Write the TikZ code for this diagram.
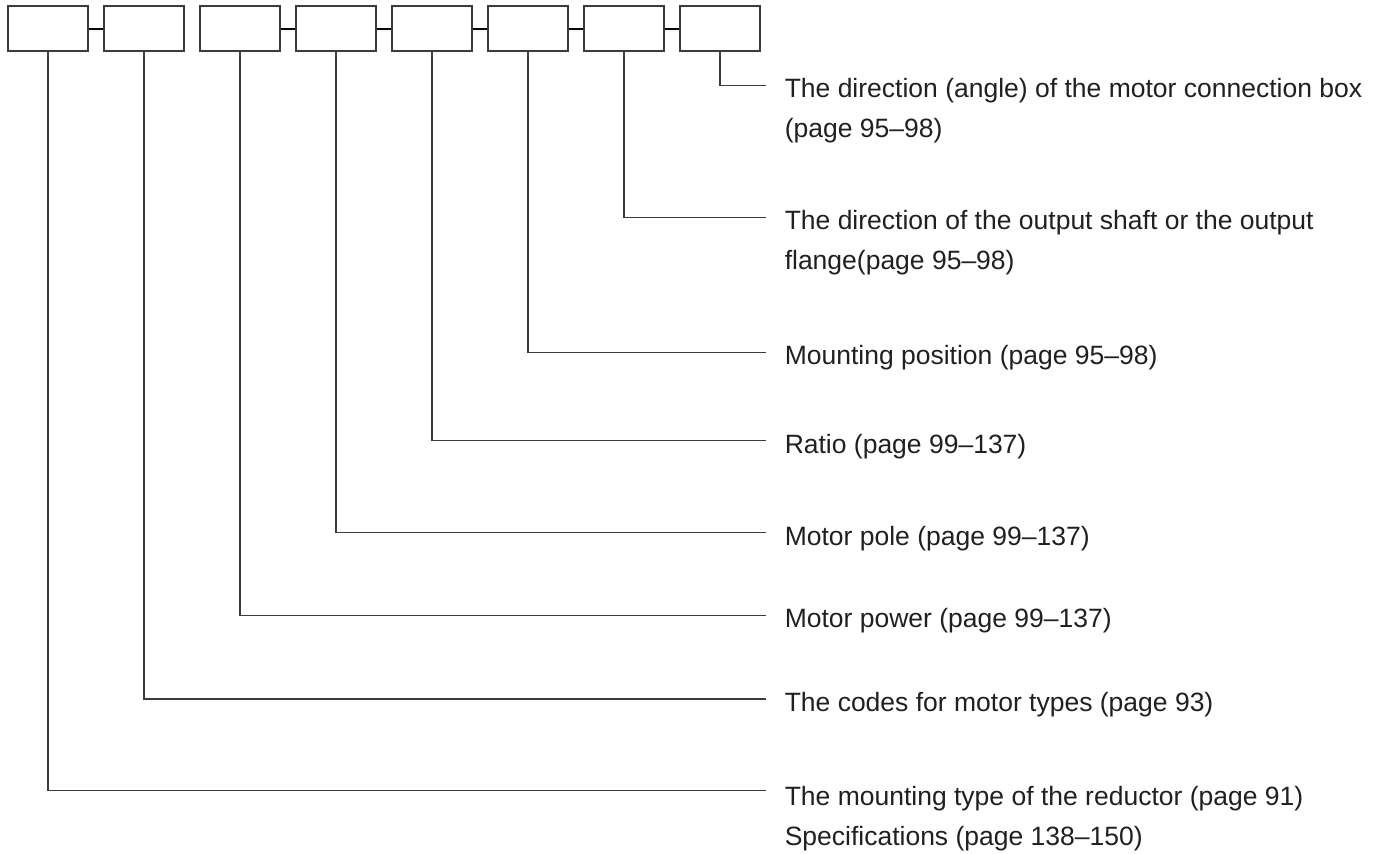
\documentclass[tikz,border=0pt]{standalone}
\usepackage{fontspec}
\setmainfont{Liberation Sans}
\usepackage{xcolor}
\definecolor{linegray}{HTML}{3C3C3C}
\definecolor{textblack}{HTML}{231F20}

\begin{document}
\begin{tikzpicture}[x=0.5pt, y=-0.5pt, line width=0.75pt,
  cell/.style={draw=linegray, minimum width=40pt, minimum height=22.5pt, inner sep=0pt},
  desc/.style={anchor=base west, inner sep=0pt, align=left, text=textblack,
    font=\fontsize{13.25}{20}\selectfont}]
  \useasboundingbox (0,0) rectangle (1382,853);

  % code boxes
  \foreach \i in {1,...,8}{
    \node[cell] (b\i) at ({48+96*(\i-1)},28.5) {};
  }
  \foreach \i/\j in {1/2,3/4,4/5,5/6,6/7,7/8}{
    \draw[black, line width=1pt] (b\i.east) -- (b\j.west);
  }

  % leaders
  \foreach \i/\y in {1/790.7,2/699,3/615.7,4/532.7,5/440.7,6/352.3,7/217.3,8/85.7}{
    \coordinate (e\i) at (766,\y);
    \draw[linegray] (b\i.south) |- (e\i);
  }

  % descriptions (base = last line)
  \node[desc] (d8) at (784,137.5) {The direction (angle) of the motor connection box\\(page 95--98)};
  \node[desc] (d7) at (784,269.5) {The direction of the output shaft or the output\\flange(page 95--98)};
  \node[desc] (d6) at (784,364.5) {Mounting position (page 95--98)};
  \node[desc] (d5) at (784,453) {Ratio (page 99--137)};
  \node[desc] (d4) at (784,545) {Motor pole (page 99--137)};
  \node[desc] (d3) at (784,627.5) {Motor power (page 99--137)};
  \node[desc] (d2) at (784,711) {The codes for motor types (page 93)};
  \node[desc] (d1) at (784,845) {The mounting type of the reductor (page 91)\\Specifications (page 138--150)};
\end{tikzpicture}
\end{document}
